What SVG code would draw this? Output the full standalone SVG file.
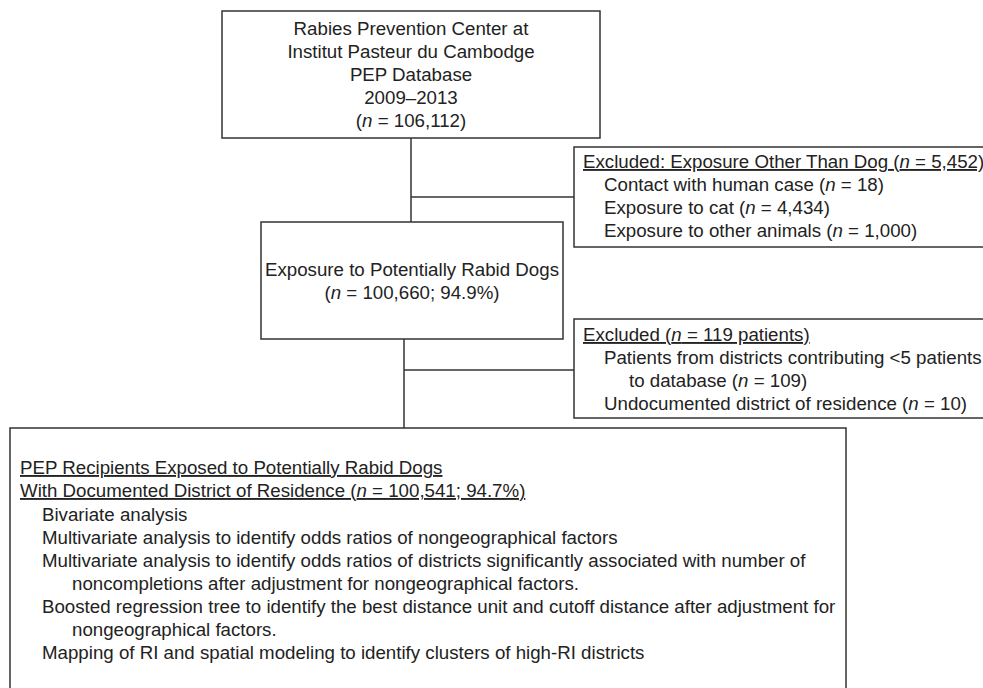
<svg xmlns="http://www.w3.org/2000/svg" width="983" height="688" viewBox="0 0 983 688">
<style>
rect{fill:#fff;stroke:#333;stroke-width:1.5}
line{stroke:#333;stroke-width:1.5}
text{font-family:"Liberation Sans",Arial,sans-serif;font-size:18.7px;fill:#222}
.c{text-anchor:middle}
.u{text-decoration:underline}
.i{font-style:italic}
</style>
<rect x="0" y="0" width="983" height="688" style="fill:#fff;stroke:none"/>
<g id="connectors">
<line x1="411" y1="138" x2="411" y2="222"/>
<line x1="411" y1="197" x2="574" y2="197"/>
<line x1="404" y1="339" x2="404" y2="428"/>
<line x1="404" y1="370" x2="574" y2="370"/>
</g>
<g id="source">
<rect x="222" y="11" width="378" height="127"/>
<text class="c" x="411" y="35">Rabies Prevention Center at</text>
<text class="c" x="411" y="58">Institut Pasteur du Cambodge</text>
<text class="c" x="411" y="81">PEP Database</text>
<text class="c" x="411" y="104">2009–2013</text>
<text class="c" x="411" y="127">(<tspan class="i">n</tspan> = 106,112)</text>
</g>
<g id="excluded1">
<rect x="574" y="147" width="420" height="100"/>
<text x="583" y="168" class="u">Excluded: Exposure Other Than Dog (<tspan class="i">n</tspan> = 5,452)</text>
<text x="604" y="191">Contact with human case (<tspan class="i">n</tspan> = 18)</text>
<text x="604" y="214">Exposure to cat (<tspan class="i">n</tspan> = 4,434)</text>
<text x="604" y="237">Exposure to other animals (<tspan class="i">n</tspan> = 1,000)</text>
</g>
<g id="dogs">
<rect x="261" y="222" width="302" height="117"/>
<text class="c" x="412" y="276">Exposure to Potentially Rabid Dogs</text>
<text class="c" x="412" y="299">(<tspan class="i">n</tspan> = 100,660; 94.9%)</text>
</g>
<g id="excluded2">
<rect x="574" y="319" width="420" height="99"/>
<text x="583" y="341" class="u">Excluded (<tspan class="i">n</tspan> = 119 patients)</text>
<text x="604" y="364">Patients from districts contributing &lt;5 patients</text>
<text x="629" y="387">to database (<tspan class="i">n</tspan> = 109)</text>
<text x="604" y="410">Undocumented district of residence (<tspan class="i">n</tspan> = 10)</text>
</g>
<g id="recipients">
<rect x="10" y="428" width="836" height="280"/>
<text x="20" y="474" class="u">PEP Recipients Exposed to Potentially Rabid Dogs</text>
<text x="20" y="497" class="u">With Documented District of Residence (<tspan class="i">n</tspan> = 100,541; 94.7%)</text>
<text x="42" y="521">Bivariate analysis</text>
<text x="42" y="544">Multivariate analysis to identify odds ratios of nongeographical factors</text>
<text x="42" y="567">Multivariate analysis to identify odds ratios of districts significantly associated with number of</text>
<text x="72" y="590">noncompletions after adjustment for nongeographical factors.</text>
<text x="42" y="613">Boosted regression tree to identify the best distance unit and cutoff distance after adjustment for</text>
<text x="72" y="636">nongeographical factors.</text>
<text x="42" y="659">Mapping of RI and spatial modeling to identify clusters of high-RI districts</text>
</g>
</svg>
